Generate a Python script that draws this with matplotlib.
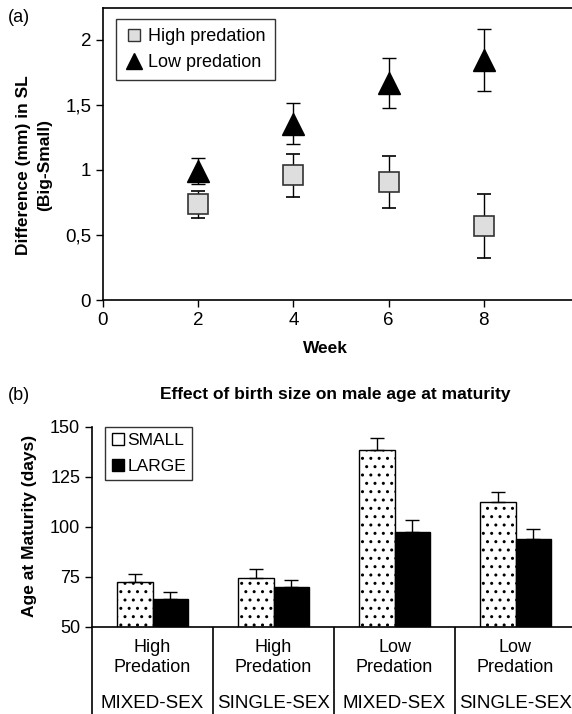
import matplotlib
matplotlib.use("Agg")
import matplotlib.pyplot as plt
from matplotlib.lines import Line2D
import numpy as np

plt.rcParams['font.family'] = ['Liberation Sans', 'DejaVu Sans']
plt.rcParams['hatch.linewidth'] = 1.0

# panel (a): size difference by week
weeks = [2, 4, 6, 8]
high_pred = [0.735, 0.96, 0.91, 0.57]
high_err = [0.105, 0.165, 0.2, 0.245]
low_pred = [0.99, 1.357, 1.67, 1.845]
low_err = [0.1, 0.157, 0.195, 0.24]
y_ticks_a = [0, 0.5, 1, 1.5, 2]
y_ticklabels_a = ['0', '0,5', '1', '1,5', '2']

# panel (b): age at maturity
pred_labels = ['High\nPredation', 'High\nPredation', 'Low\nPredation', 'Low\nPredation']
sex_labels = ['MIXED-SEX', 'SINGLE-SEX', 'MIXED-SEX', 'SINGLE-SEX']
small = [72.2, 74.5, 138.3, 112.2]
small_err = [4.2, 4.2, 5.9, 5.1]
large = [63.7, 70.0, 97.5, 94.0]
large_err = [3.8, 3.5, 6.0, 5.0]

W, H = 572, 714
fig = plt.figure(figsize=(W / 100, H / 100), dpi=100)


def px_axes(l, t, r, b):
    return fig.add_axes([l / W, 1 - b / H, (r - l) / W, (b - t) / H])


# ---- (a)
ax1 = px_axes(103, 8, 579, 300)
ax1.errorbar(weeks, high_pred, yerr=high_err, fmt='s', ms=15, mfc='#dedede',
             mec='#333333', mew=1.2, ecolor='black', elinewidth=1,
             capsize=5, capthick=1)
ax1.errorbar(weeks, low_pred, yerr=low_err, fmt='^', ms=16, color='black',
             ecolor='black', elinewidth=1, capsize=5, capthick=1)
ax1.set_xlim(0, 10)
ax1.set_ylim(0, 2.246)
ax1.set_xticks([0, 2, 4, 6, 8])
ax1.set_yticks(y_ticks_a)
ax1.set_yticklabels(y_ticklabels_a)
ax1.tick_params(direction='out', length=5, width=1, labelsize=13.5)
ax1.spines['right'].set_visible(False)
for s in ax1.spines.values():
    s.set_linewidth(1.2)

handles_a = [
    Line2D([], [], ls='none', marker='s', ms=9, mfc='#dedede', mec='#333333', mew=1),
    Line2D([], [], ls='none', marker='^', ms=11, color='black'),
]
leg = ax1.legend(handles_a, ['High predation', 'Low predation'], loc='upper left',
                 bbox_to_anchor=(0.027, 0.962), borderaxespad=0, fancybox=False,
                 edgecolor='black', fontsize=13, handletextpad=0.3,
                 handlelength=1.0, borderpad=0.5, labelspacing=0.5)
leg.get_frame().set_linewidth(1)

fig.text(34 / W, 1 - 165 / H, 'Difference (mm) in SL\n(Big-Small)', rotation=90,
         ha='center', va='center', fontsize=12.5, fontweight='bold',
         linespacing=1.45)
fig.text(325 / W, 1 - 348 / H, 'Week', ha='center', va='center',
         fontsize=12.5, fontweight='bold')
fig.text(8 / W, 1 - 18 / H, '(a)', ha='left', va='center', fontsize=13)

# ---- (b)
ax2 = px_axes(92, 426.7, 576, 626.7)
x = np.arange(len(small))
w = 0.29
ax2.bar(x - w / 2, small, w, color='white', edgecolor='black', hatch='..', lw=1)
ax2.bar(x + w / 2, large, w, color='black', edgecolor='black', lw=1)
ax2.errorbar(x - w / 2, small, yerr=[np.zeros(len(small)), small_err], fmt='none',
             ecolor='black', elinewidth=1, capsize=5, capthick=1)
ax2.errorbar(x + w / 2, large, yerr=[np.zeros(len(large)), large_err], fmt='none',
             ecolor='black', elinewidth=1, capsize=5, capthick=1)
ax2.set_xlim(-0.5, 3.5)
ax2.set_ylim(50, 150)
ax2.set_yticks([50, 75, 100, 125, 150])
ax2.set_xticks([])
ax2.tick_params(direction='out', length=5, width=1, labelsize=13)
ax2.spines['top'].set_visible(False)
ax2.spines['right'].set_visible(False)
for s in ax2.spines.values():
    s.set_linewidth(1.2)

ax2.vlines(np.arange(len(small) + 1) - 0.5, -0.45, 0, transform=ax2.get_xaxis_transform(),
           colors='black', lw=1.2, clip_on=False)
for i in range(len(small)):
    ax2.text(i, -0.154, pred_labels[i], transform=ax2.get_xaxis_transform(),
             ha='center', va='center', fontsize=13, linespacing=1.25)
    ax2.text(i, -0.383, sex_labels[i], transform=ax2.get_xaxis_transform(),
             ha='center', va='center', fontsize=13.5)

handles_b = [
    Line2D([], [], ls='none', marker='s', ms=9, mfc='white', mec='black', mew=1),
    Line2D([], [], ls='none', marker='s', ms=9, mfc='black', mec='black', mew=1),
]
leg2 = ax2.legend(handles_b, ['SMALL', 'LARGE'], loc='upper left',
                  bbox_to_anchor=(0.027, 0.9985), borderaxespad=0, fancybox=False,
                  edgecolor='black', fontsize=12.5, handletextpad=0.15,
                  handlelength=0.8, borderpad=0.35, labelspacing=0.6)
leg2.get_frame().set_linewidth(1)

fig.text(30 / W, 1 - 526 / H, 'Age at Maturity (days)', rotation=90,
         ha='center', va='center', fontsize=12.5, fontweight='bold')
fig.text(335 / W, 1 - 395 / H, 'Effect of birth size on male age at maturity',
         ha='center', va='center', fontsize=12.5, fontweight='bold')
fig.text(8 / W, 1 - 395 / H, '(b)', ha='left', va='center', fontsize=13)

fig.savefig('out.png', dpi=100)
